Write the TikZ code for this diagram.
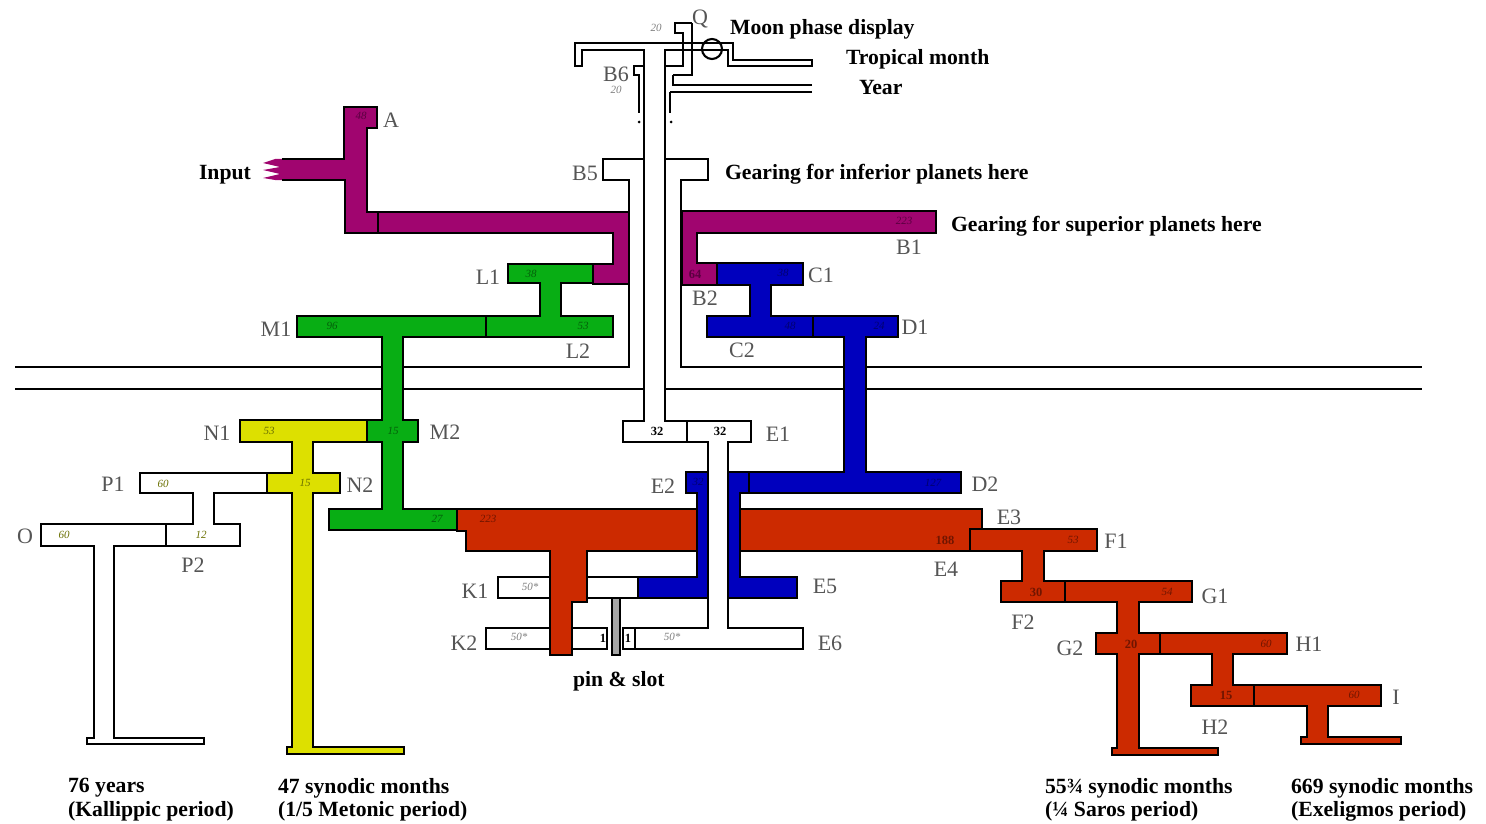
\documentclass[tikz,border=0pt]{standalone}
\usepackage{fontspec}
\setmainfont{Liberation Serif}
\usepackage{tikz}

\definecolor{drivepurple}{HTML}{A0056F}
\definecolor{gearpurple}{HTML}{5A0040}
\definecolor{geargreen}{HTML}{08AE14}
\definecolor{darkgreen}{HTML}{04600A}
\definecolor{gearblue}{HTML}{0000BE}
\definecolor{darkblue}{HTML}{000070}
\definecolor{gearyellow}{HTML}{DDE000}
\definecolor{darkyellow}{HTML}{6A7000}
\definecolor{gearred}{HTML}{CC2A00}
\definecolor{darkred}{HTML}{701500}
\definecolor{labelgrey}{HTML}{555555}

\begin{document}
\begin{tikzpicture}[x=1pt, y=-1pt, line width=2.1pt,
    part/.style = {draw=black, line join=miter},
    divider/.style = {draw=black, line width=2.8pt},
    tag/.style = {text=labelgrey, font=\fontsize{22}{22}\selectfont, inner sep=0pt, yshift=-1pt},
    tooth/.style = {inner sep=0pt, font=\fontsize{11}{11}\selectfont\itshape},
    boldtooth/.style = {inner sep=0pt, font=\fontsize{12.5}{12.5}\selectfont\bfseries},
    note/.style = {anchor=west, inner sep=0pt, yshift=-2pt, font=\fontsize{21.7}{21.7}\selectfont\bfseries}]

    \useasboundingbox (0,0) rectangle (1486,824);

    % frame lines
    \draw[part] (15,367) -- (629,367) -- (629,180) -- (603,180) -- (603,159) -- (708,159) -- (708,180) -- (681,180) -- (681,367) -- (1422,367);
    \draw[part] (15,389) -- (1422,389);

    % sleeves at the top
    \draw[part] (644,66) -- (634,66) -- (634,75) -- (639,75) -- (639,113);
    \draw[part] (670,92) -- (670,113);
    \draw[part] (812,85) -- (673,85) -- (673,75);
    \draw[part] (812,92) -- (670,92);
    \fill (639,122) circle (1.5);
    \fill (671,122) circle (1.5);

    % white gears behind the red one
    \draw[part, fill=white] (498,577) rectangle (638,598);
    \draw[part, fill=white] (486,628) rectangle (607,649);

    \draw[part, fill=gearred] (457,509) -- (982,509) -- (982,529) -- (970,529) -- (970,551) -- (587,551) -- (587,602) -- (572,602) -- (572,655) -- (550,655) -- (550,551) -- (466,551) -- (466,531) -- (457,531) -- cycle;

    % blue train
    \draw[part, fill=gearblue] (686,472) -- (708,472) -- (708,598) -- (638,598) -- (638,577) -- (697,577) -- (697,493) -- (686,493) -- cycle;
    \draw[part, fill=gearblue] (707,316) -- (750,316) -- (750,285) -- (717,285) -- (717,263) -- (803,263) -- (803,285) -- (771,285) -- (771,316) -- (898,316) -- (898,337) -- (866,337) -- (866,472) -- (961,472) -- (961,493) -- (740,493) -- (740,577) -- (797,577) -- (797,598) -- (728,598) -- (728,472) -- (844,472) -- (844,337) -- (707,337) -- cycle;

    % central shaft with E1 and E6
    \draw[part, fill=white] (575,66) -- (575,43) -- (733,43) -- (733,60) -- (812,60) -- (812,66) -- (728,66) -- (728,50) -- (665,50) -- (665,421) -- (751,421) -- (751,442) -- (728,442) -- (728,628) -- (803,628) -- (803,649) -- (623,649) -- (623,628) -- (708,628) -- (708,442) -- (623,442) -- (623,421) -- (644,421) -- (644,50) -- (582,50) -- (582,66) -- cycle;
    \draw[part] (692,23) -- (675,23) -- (675,33) -- (683,33) -- (683,66) -- (665,66);
    \draw[part] (692,23) -- (692,75) -- (673,75);
    \draw[part, line width=2.8pt] (680,50) -- (728,50);
    \node[draw=black, circle, minimum size=20pt, inner sep=0pt] (moon) at (712,49) {};

    \draw[part, fill=gray!70, line width=1.2pt] (612,598) rectangle (620,655);

    % purple train
    \fill[drivepurple] (344,107) -- (377,107) -- (377,128) -- (367,128) -- (367,212) -- (629,212) -- (629,284) -- (593,284) -- (593,264) -- (613,264) -- (613,233) -- (345,233) -- (345,180) -- (275,180) -- (263,178) -- (280,174) -- (263,170) -- (280,167) -- (263,163) -- (275,159) -- (345,159) -- cycle;
    \draw[part] (282,180) -- (345,180) -- (345,233) -- (613,233) -- (613,264) -- (593,264) -- (593,284) -- (629,284) -- (629,212) -- (367,212) -- (367,128) -- (377,128) -- (377,107) -- (344,107) -- (344,159) -- (282,159);
    \draw[part, fill=drivepurple] (682,211) -- (936,211) -- (936,233) -- (697,233) -- (697,263) -- (717,263) -- (717,285) -- (682,285) -- cycle;

    % green train
    \draw[part, fill=geargreen] (508,264) -- (593,264) -- (593,283) -- (561,283) -- (561,316) -- (613,316) -- (613,337) -- (403,337) -- (403,420) -- (418,420) -- (418,442) -- (403,442) -- (403,509) -- (457,509) -- (457,530) -- (329,530) -- (329,509) -- (382,509) -- (382,442) -- (367,442) -- (367,420) -- (382,420) -- (382,337) -- (297,337) -- (297,316) -- (540,316) -- (540,283) -- (508,283) -- cycle;

    % metonic and callippic
    \draw[part, fill=white] (41,524) -- (193,524) -- (193,493) -- (140,493) -- (140,473) -- (267,473) -- (267,493) -- (214,493) -- (214,524) -- (240,524) -- (240,546) -- (114,546) -- (114,738) -- (204,738) -- (204,744) -- (87,744) -- (87,738) -- (94,738) -- (94,546) -- (41,546) -- cycle;
    \draw[part, fill=gearyellow] (240,420) -- (367,420) -- (367,442) -- (313,442) -- (313,473) -- (340,473) -- (340,493) -- (313,493) -- (313,747) -- (404,747) -- (404,754) -- (287,754) -- (287,747) -- (292,747) -- (292,493) -- (267,493) -- (267,473) -- (292,473) -- (292,442) -- (240,442) -- cycle;

    % saros and exeligmos
    \draw[part, fill=gearred] (970,529) -- (1097,529) -- (1097,551) -- (1044,551) -- (1044,581) -- (1192,581) -- (1192,602) -- (1139,602) -- (1139,633) -- (1287,633) -- (1287,654) -- (1233,654) -- (1233,685) -- (1381,685) -- (1381,706) -- (1328,706) -- (1328,737) -- (1401,737) -- (1401,744) -- (1301,744) -- (1301,737) -- (1307,737) -- (1307,706) -- (1191,706) -- (1191,685) -- (1212,685) -- (1212,654) -- (1139,654) -- (1139,748) -- (1218,748) -- (1218,755) -- (1112,755) -- (1112,748) -- (1117,748) -- (1117,654) -- (1096,654) -- (1096,633) -- (1117,633) -- (1117,602) -- (1001,602) -- (1001,581) -- (1022,581) -- (1022,551) -- (970,551) -- cycle;

    % gear divisions
    \draw[divider] (378,212) -- (378,233);
    \draw[divider] (593,264) -- (593,284);
    \draw[divider] (486,316) -- (486,337);
    \draw[divider] (717,263) -- (717,285);
    \draw[divider] (813,316) -- (813,337);
    \draw[divider] (749,472) -- (749,493);
    \draw[divider] (367,420) -- (367,442);
    \draw[divider] (267,473) -- (267,493);
    \draw[divider] (166,524) -- (166,546);
    \draw[divider] (457,509) -- (457,530);
    \draw[divider] (970,529) -- (970,551);
    \draw[divider] (1065,581) -- (1065,602);
    \draw[divider] (1160,633) -- (1160,654);
    \draw[divider] (1254,685) -- (1254,706);
    \draw[divider] (687,421) -- (687,442);
    \draw[divider] (635,628) -- (635,649);

    % tooth counts
    \node[tooth, text=gearpurple] (nA) at (361,116) {48};
    \node[tooth, text=gearpurple] (nB1) at (904,221) {223};
    \node[boldtooth, text=gearpurple] (nB2) at (695,274) {64};
    \node[tooth, text=darkblue] (nC1) at (783,273) {38};
    \node[tooth, text=darkblue] (nC2) at (790,326) {48};
    \node[tooth, text=darkblue] (nD1) at (879,326) {24};
    \node[tooth, text=darkblue] (nD2) at (933,483) {127};
    \node[tooth, text=darkblue] (nE2) at (698,482) {32};
    \node[tooth, text=darkgreen] (nL1) at (531,274) {38};
    \node[tooth, text=darkgreen] (nL2) at (583,326) {53};
    \node[tooth, text=darkgreen] (nM1) at (332,326) {96};
    \node[tooth, text=darkgreen] (nM2) at (393,431) {15};
    \node[tooth, text=darkgreen] (nM3) at (437,519) {27};
    \node[tooth, text=darkyellow] (nN1) at (269,431) {53};
    \node[tooth, text=darkyellow] (nN2) at (305,483) {15};
    \node[tooth, text=darkyellow] (nP1) at (163,484) {60};
    \node[tooth, text=darkyellow] (nP2) at (201,535) {12};
    \node[tooth, text=darkyellow] (nO) at (64,535) {60};
    \node[tooth, text=darkred] (nE3) at (488,519) {223};
    \node[boldtooth, text=darkred] (nE4) at (945,540) {188};
    \node[tooth, text=darkred] (nF1) at (1073,540) {53};
    \node[boldtooth, text=darkred] (nF2) at (1036,592) {30};
    \node[tooth, text=darkred] (nG1) at (1167,592) {54};
    \node[boldtooth, text=darkred] (nG2) at (1131,644) {20};
    \node[tooth, text=darkred] (nH1) at (1266,644) {60};
    \node[boldtooth, text=darkred] (nH2) at (1226,695) {15};
    \node[tooth, text=darkred] (nI) at (1354,695) {60};
    \node[boldtooth] (nE1a) at (657,431) {32};
    \node[boldtooth] (nE1b) at (720,431) {32};
    \node[tooth, text=gray] (nK1) at (530,587) {50*};
    \node[tooth, text=gray] (nK2) at (519,637) {50*};
    \node[tooth, text=gray] (nE6) at (672,637) {50*};
    \node[boldtooth] (pina) at (603,638) {1};
    \node[boldtooth] (pinb) at (628,638) {1};
    \node[tooth, text=gray] (nQ) at (656,28) {20};
    \node[tooth, text=gray] (nB6) at (616,90) {20};

    % gear names
    \node[tag] (A) at (391,119) {A};
    \node[tag] (Q) at (700,18) {Q};
    \node[tag] (B6) at (616,73) {B6};
    \node[tag] (B5) at (585,172) {B5};
    \node[tag] (B1) at (909,246) {B1};
    \node[tag] (B2) at (705,297) {B2};
    \node[tag] (L1) at (488,276) {L1};
    \node[tag] (L2) at (578,350) {L2};
    \node[tag] (C1) at (821,274) {C1};
    \node[tag] (C2) at (742,349) {C2};
    \node[tag] (M1) at (276,328) {M1};
    \node[tag] (M2) at (445,431) {M2};
    \node[tag] (D1) at (915,326) {D1};
    \node[tag] (D2) at (985,483) {D2};
    \node[tag] (N1) at (217,432) {N1};
    \node[tag] (N2) at (360,484) {N2};
    \node[tag] (E1) at (778,433) {E1};
    \node[tag] (E2) at (663,485) {E2};
    \node[tag] (E3) at (1009,516) {E3};
    \node[tag] (E4) at (946,568) {E4};
    \node[tag] (E5) at (825,585) {E5};
    \node[tag] (E6) at (830,642) {E6};
    \node[tag] (P1) at (113,483) {P1};
    \node[tag] (P2) at (193,564) {P2};
    \node[tag] (O) at (25,535) {O};
    \node[tag] (K1) at (475,590) {K1};
    \node[tag] (K2) at (464,642) {K2};
    \node[tag] (F1) at (1116,540) {F1};
    \node[tag] (F2) at (1023,621) {F2};
    \node[tag] (G1) at (1215,595) {G1};
    \node[tag] (G2) at (1070,647) {G2};
    \node[tag] (H1) at (1309,643) {H1};
    \node[tag] (H2) at (1215,726) {H2};
    \node[tag] (I) at (1396,696) {I};

    % notes
    \node[note] (moonnote) at (729,27) {Moon phase display};
    \node[note] (tropical) at (845,57) {Tropical month};
    \node[note] (year) at (858,86) {Year};
    \node[note] (input) at (198,173) {Input};
    \node[note] (inferior) at (724,172) {Gearing for inferior planets here};
    \node[note] (superior) at (950,224) {Gearing for superior planets here};
    \node[note] (pinslot) at (572,679) {pin \& slot};
    \node[note] (callippica) at (67,786) {76 years};
    \node[note] (callippicb) at (67,809) {(Kallippic period)};
    \node[note] (metonica) at (277,786) {47 synodic months};
    \node[note] (metonicb) at (277,809) {(1/5 Metonic period)};
    \node[note] (sarosa) at (1044,786) {55¾ synodic months};
    \node[note] (sarosb) at (1044,809) {(¼ Saros period)};
    \node[note] (exelia) at (1290,786) {669 synodic months};
    \node[note] (exelib) at (1290,809) {(Exeligmos period)};

\end{tikzpicture}
\end{document}
